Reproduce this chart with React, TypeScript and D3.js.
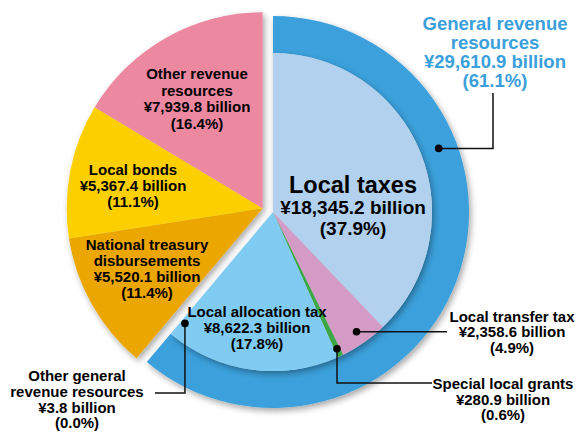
import React from "react";
import * as d3 from "d3";

// revenue items, in drawing order (clockwise from 12 o'clock)
const items = [
  "Local taxes",
  "Local transfer tax",
  "Special local grants",
  "Local allocation tax",
  "Other general revenue resources",
  "National treasury disbursements",
  "Local bonds",
  "Other revenue resources",
];
const values = [18345.2, 2358.6, 280.9, 8622.3, 3.8, 5520.1, 5367.4, 7939.8];
const isGeneral = [true, true, true, true, true, false, false, false];
const colors = ["#b1d1ef", "#d39bc6", "#3aa845", "#80cbf1", "#80cbf1", "#eba600", "#fcd000", "#ed88a1"];

const generalTotal = 29610.9;
const generalPct = "61.1%";

const W = 577;
const H = 432;
const cx = 273;
const cy = 212;
const R = 196;
const rIn = 159;
const explode = 11;

const font = "'Liberation Sans', Arial, Helvetica, sans-serif";

type Label = { x: number; ys: number[]; lines: string[]; size: number; color?: string };

const labels: Label[] = [
  { x: 495, ys: [23, 42, 61, 80], lines: ["General revenue", "resources", "¥29,610.9 billion", "(61.1%)"], size: 18.5, color: "#3aa0dc" },
  { x: 197, ys: [73, 90, 106, 123], lines: ["Other revenue", "resources", "¥7,939.8 billion", "(16.4%)"], size: 15 },
  { x: 133, ys: [169, 185, 201], lines: ["Local bonds", "¥5,367.4 billion", "(11.1%)"], size: 15 },
  { x: 147, ys: [244, 260, 276, 292], lines: ["National treasury", "disbursements", "¥5,520.1 billion", "(11.4%)"], size: 15 },
  { x: 257, ys: [311, 327, 343], lines: ["Local allocation tax", "¥8,622.3 billion", "(17.8%)"], size: 15 },
  { x: 77, ys: [375, 391, 407, 422], lines: ["Other general", "revenue resources", "¥3.8 billion", "(0.0%)"], size: 15 },
  { x: 512, ys: [316, 331, 347], lines: ["Local transfer tax", "¥2,358.6 billion", "(4.9%)"], size: 15 },
  { x: 503, ys: [383, 399, 414], lines: ["Special local grants", "¥280.9 billion", "(0.6%)"], size: 15 },
];

const pie = d3
  .pie<number>()
  .sort(null)
  .value((d) => d)
  .startAngle(0)
  .endAngle(Math.PI * 2);

const arcs = pie(values);
const generalEnd = (Math.PI * 2 * generalTotal) / d3.sum(values);
const otherMid = (generalEnd + Math.PI * 2) / 2;
const offX = Math.sin(otherMid) * explode;
const offY = -Math.cos(otherMid) * explode;

const innerArc = d3.arc<d3.PieArcDatum<number>>().innerRadius(0).outerRadius(rIn);
const outerArc = d3.arc<d3.PieArcDatum<number>>().innerRadius(0).outerRadius(R);
const ringArc = d3.arc().innerRadius(rIn).outerRadius(R).startAngle(0).endAngle(generalEnd);

const polar = (angle: number, r: number): [number, number] => [cx + Math.sin(angle) * r, cy - Math.cos(angle) * r];
const midAngle = (i: number) => (arcs[i].startAngle + arcs[i].endAngle) / 2;

export default function App() {
  const gDot = polar((69 * Math.PI) / 180, (R + rIn) / 2);
  const tDot = polar(midAngle(1), 146);
  const sDot = polar(midAngle(2), 151);
  const oDot = polar(arcs[4].startAngle - 0.03, 142);

  const leaders: [number, number][][] = [
    [gDot, [493, gDot[1]], [493, 93]],
    [tDot, [447, tDot[1]]],
    [sDot, [sDot[0], 383], [432, 383]],
    [oDot, [oDot[0], 393], [155, 393]],
  ];
  const line = d3.line();

  return (
    <svg width={W} height={H} style={{ position: "absolute", left: 0, top: 0, background: "#fff" }}>
      <defs>
        <filter id="sh" x="-20%" y="-20%" width="140%" height="140%">
          <feDropShadow dx="2" dy="3" stdDeviation="3" floodColor="#000" floodOpacity="0.35" />
        </filter>
      </defs>

      {/* general revenue ring */}
      <path d={ringArc({} as any) as string} transform={`translate(${cx},${cy})`} fill="#3aa0db" filter="url(#sh)" />

      {/* general revenue slices */}
      <g transform={`translate(${cx},${cy})`} filter="url(#sh)">
        {arcs.map((a, i) =>
          isGeneral[i] ? <path key={items[i]} d={innerArc(a) as string} fill={colors[i]} /> : null
        )}
      </g>

      {/* other revenue slices, pulled out */}
      <g transform={`translate(${cx + offX},${cy + offY})`} filter="url(#sh)">
        {arcs.map((a, i) =>
          !isGeneral[i] ? <path key={items[i]} d={outerArc(a) as string} fill={colors[i]} /> : null
        )}
      </g>

      {/* leaders */}
      {leaders.map((pts, i) => (
        <g key={i}>
          <path d={line(pts) as string} fill="none" stroke="#111" strokeWidth={1.5} />
          <circle cx={pts[0][0]} cy={pts[0][1]} r={3.8} fill="#000" />
        </g>
      ))}

      {/* big local taxes label */}
      <g fontFamily={font} fontWeight="bold" textAnchor="middle" dominantBaseline="central" fill="#000">
        <text x={353} y={185} fontSize={23.5}>Local taxes</text>
        <text x={353} y={207} fontSize={19}>¥18,345.2 billion</text>
        <text x={353} y={228} fontSize={19}>(37.9%)</text>
      </g>

      {labels.map((l, i) => (
        <g key={i} fontFamily={font} fontWeight="bold" textAnchor="middle" dominantBaseline="central" fill={l.color ?? "#000"} fontSize={l.size}>
          {l.lines.map((t, j) => (
            <text key={j} x={l.x} y={l.ys[j]}>{t}</text>
          ))}
        </g>
      ))}
    </svg>
  );
}
